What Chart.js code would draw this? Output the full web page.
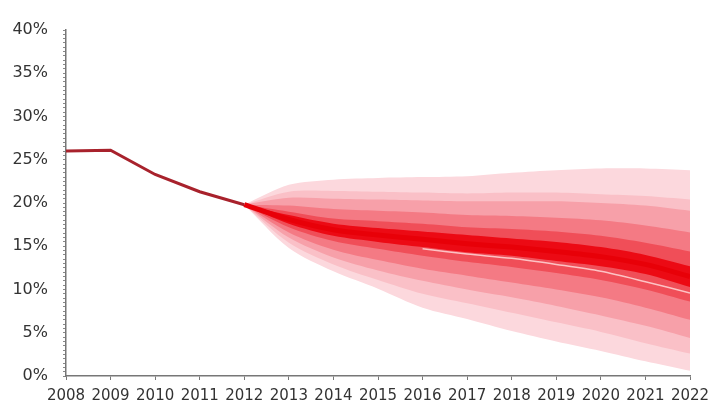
<!DOCTYPE html>
<html>
<head>
  <title>Fan chart</title>
  <script src="https://cdn.jsdelivr.net/npm/chart.js"></script>
  <style>
    html, body {
      margin: 0;
      padding: 0;
      background: #fff;
    }
    #wrap {
      width: 711px;
      height: 401px;
    }
  </style>
</head>
<body>
  <div id="wrap"><canvas id="fanChart"></canvas></div>

  <script>
    // history 2008-2012
    const histYears = [2008, 2009, 2010, 2011, 2012];
    const histValues = [26.0, 26.1, 23.3, 21.3, 19.8];

    // projection 2012-2022
    const projYears = [2012, 2013, 2014, 2015, 2016, 2017, 2018, 2019, 2020, 2021, 2022];
    const median = [19.8, 18.1, 16.9, 16.3, 15.8, 15.3, 14.9, 14.4, 13.8, 12.9, 11.5];
    const coreUpper = [19.8, 18.6, 17.6, 17.1, 16.7, 16.3, 15.9, 15.5, 14.9, 14.0, 12.7];
    const coreLower = [19.8, 17.6, 16.2, 15.5, 14.9, 14.3, 13.9, 13.3, 12.7, 11.8, 10.3];
    const band1Upper = [19.8, 19.0, 18.2, 17.9, 17.6, 17.2, 17.0, 16.7, 16.2, 15.4, 14.4];
    const band1Lower = [19.8, 17.2, 15.6, 14.7, 13.9, 13.2, 12.6, 11.9, 11.1, 10.0, 8.6];
    const band2Upper = [19.8, 19.7, 19.3, 19.1, 18.9, 18.6, 18.5, 18.3, 18.0, 17.4, 16.6];
    const band2Lower = [19.8, 16.6, 14.6, 13.4, 12.4, 11.6, 10.8, 10.0, 9.1, 7.9, 6.5];
    const band3Upper = [19.8, 20.6, 20.5, 20.4, 20.3, 20.2, 20.2, 20.2, 20.0, 19.7, 19.1];
    const band3Lower = [19.8, 16.0, 13.7, 12.2, 11.0, 10.0, 9.1, 8.1, 7.0, 5.8, 4.4];
    const band4Upper = [19.8, 21.3, 21.4, 21.3, 21.2, 21.1, 21.2, 21.2, 21.0, 20.8, 20.4];
    const band4Lower = [19.8, 15.4, 12.9, 11.1, 9.5, 8.4, 7.3, 6.2, 5.1, 3.8, 2.6];
    const band5Upper = [19.8, 22.1, 22.7, 22.9, 23.0, 23.1, 23.5, 23.8, 24.0, 24.0, 23.8];
    const band5Lower = [19.8, 14.8, 12.1, 10.1, 7.9, 6.6, 5.2, 4.0, 2.9, 1.7, 0.6];

    // thin pale line under the core, 2016-2022
    const paleYears = [2016, 2017, 2018, 2019, 2020, 2021, 2022];
    const paleLine = [14.7, 14.1, 13.6, 12.9, 12.1, 10.9, 9.6];

    const xTicks = [2008, 2009, 2010, 2011, 2012, 2013, 2014, 2015, 2016, 2017, 2018, 2019, 2020, 2021, 2022];

    function pts(xs, ys) {
      return xs.map((x, i) => ({ x: x, y: ys[i] }));
    }

    // inner bands first so they are drawn on top
    const bands = [
      { up: coreUpper, lo: coreLower, color: 'rgb(236, 10, 20)' },
      { up: band1Upper, lo: band1Lower, color: 'rgb(240, 78, 88)' },
      { up: band2Upper, lo: band2Lower, color: 'rgb(244, 122, 132)' },
      { up: band3Upper, lo: band3Lower, color: 'rgb(247, 160, 169)' },
      { up: band4Upper, lo: band4Lower, color: 'rgb(250, 192, 199)' },
      { up: band5Upper, lo: band5Lower, color: 'rgb(252, 216, 221)' }
    ];

    const datasets = [];
    datasets.push({
      data: pts(histYears, histValues),
      borderColor: '#a8222c',
      borderWidth: 3,
      pointRadius: 0,
      fill: false,
      tension: 0
    });
    datasets.push({
      data: pts(paleYears, paleLine),
      borderColor: 'rgba(255, 215, 215, 0.85)',
      borderWidth: 1.5,
      pointRadius: 0,
      fill: false,
      tension: 0.3
    });
    datasets.push({
      data: pts(projYears, median),
      borderColor: 'rgb(232, 0, 8)',
      borderWidth: 5,
      pointRadius: 0,
      fill: false,
      tension: 0.3
    });
    bands.forEach(b => {
      const loIndex = datasets.length;
      datasets.push({
        data: pts(projYears, b.lo),
        borderWidth: 0,
        pointRadius: 0,
        fill: false,
        tension: 0.3
      });
      datasets.push({
        data: pts(projYears, b.up),
        borderWidth: 0,
        pointRadius: 0,
        backgroundColor: b.color,
        fill: loIndex,
        tension: 0.3
      });
    });

    new Chart(document.getElementById('fanChart'), {
      type: 'line',
      data: { datasets: datasets },
      options: {
        responsive: true,
        maintainAspectRatio: false,
        animation: false,
        layout: { padding: { top: 30, right: 0, left: 0, bottom: 0 } },
        plugins: {
          legend: { display: false },
          tooltip: { enabled: false }
        },
        scales: {
          x: {
            type: 'linear',
            min: 2008,
            max: 2022,
            afterBuildTicks: s => { s.ticks = xTicks.map(v => ({ value: v })); },
            afterFit: s => { s.height = 25; s.paddingRight = 21; },
            border: { color: '#777', width: 1.5 },
            grid: { display: true, drawOnChartArea: false, drawTicks: true, tickLength: 4, tickColor: '#777' },
            ticks: {
              color: '#333',
              font: { family: 'DejaVu Sans', size: 15 },
              padding: 7,
              maxRotation: 0,
              autoSkip: false,
              callback: v => String(v)
            }
          },
          y: {
            min: 0,
            max: 40,
            afterFit: s => { s.width = 66; },
            border: { color: '#777', width: 1.5 },
            grid: { display: true, drawOnChartArea: false, drawTicks: true, tickLength: 3, tickColor: '#888' },
            ticks: {
              stepSize: 0.5,
              autoSkip: false,
              color: '#333',
              font: { family: 'DejaVu Sans', size: 16 },
              padding: 15,
              callback: v => (Math.round(v * 10) % 50 === 0 ? Math.round(v) + '%' : '')
            }
          }
        }
      }
    });
  </script>
</body>
</html>
